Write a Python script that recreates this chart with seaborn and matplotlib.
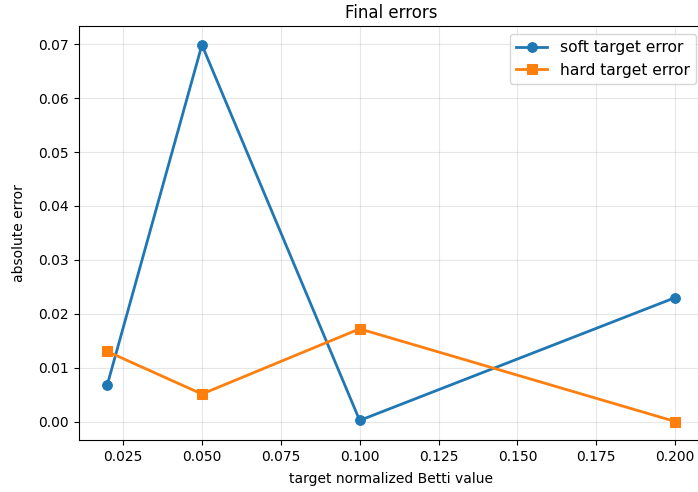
import matplotlib
matplotlib.use("Agg")
import matplotlib.pyplot as plt
import seaborn as sns
import pandas as pd

targets = [0.02, 0.05, 0.1, 0.2]
soft_error = [0.0068, 0.0699, 0.0002, 0.0230]
hard_error = [0.0130, 0.0051, 0.0172, 0.0000]

fig, ax = plt.subplots(figsize=(6.98, 4.92), dpi=100)
sns.lineplot(x=targets, y=soft_error, marker="o", markersize=7, linewidth=2,
             color="#1f77b4", markeredgecolor="#1f77b4", label="soft target error", ax=ax)
sns.lineplot(x=targets, y=hard_error, marker="s", markersize=7, linewidth=2,
             color="#ff7f0e", markeredgecolor="#ff7f0e", label="hard target error", ax=ax)
ax.set_title("Final errors", fontsize=12)
ax.set_xlabel("target normalized Betti value", labelpad=6)
ax.set_ylabel("absolute error", labelpad=9)
ax.grid(True, alpha=0.3)
ax.legend(loc="upper right", fontsize=11.2)
fig.subplots_adjust(left=0.113, right=1.008, top=0.947, bottom=0.105)
fig.savefig("out.png", dpi=100)
